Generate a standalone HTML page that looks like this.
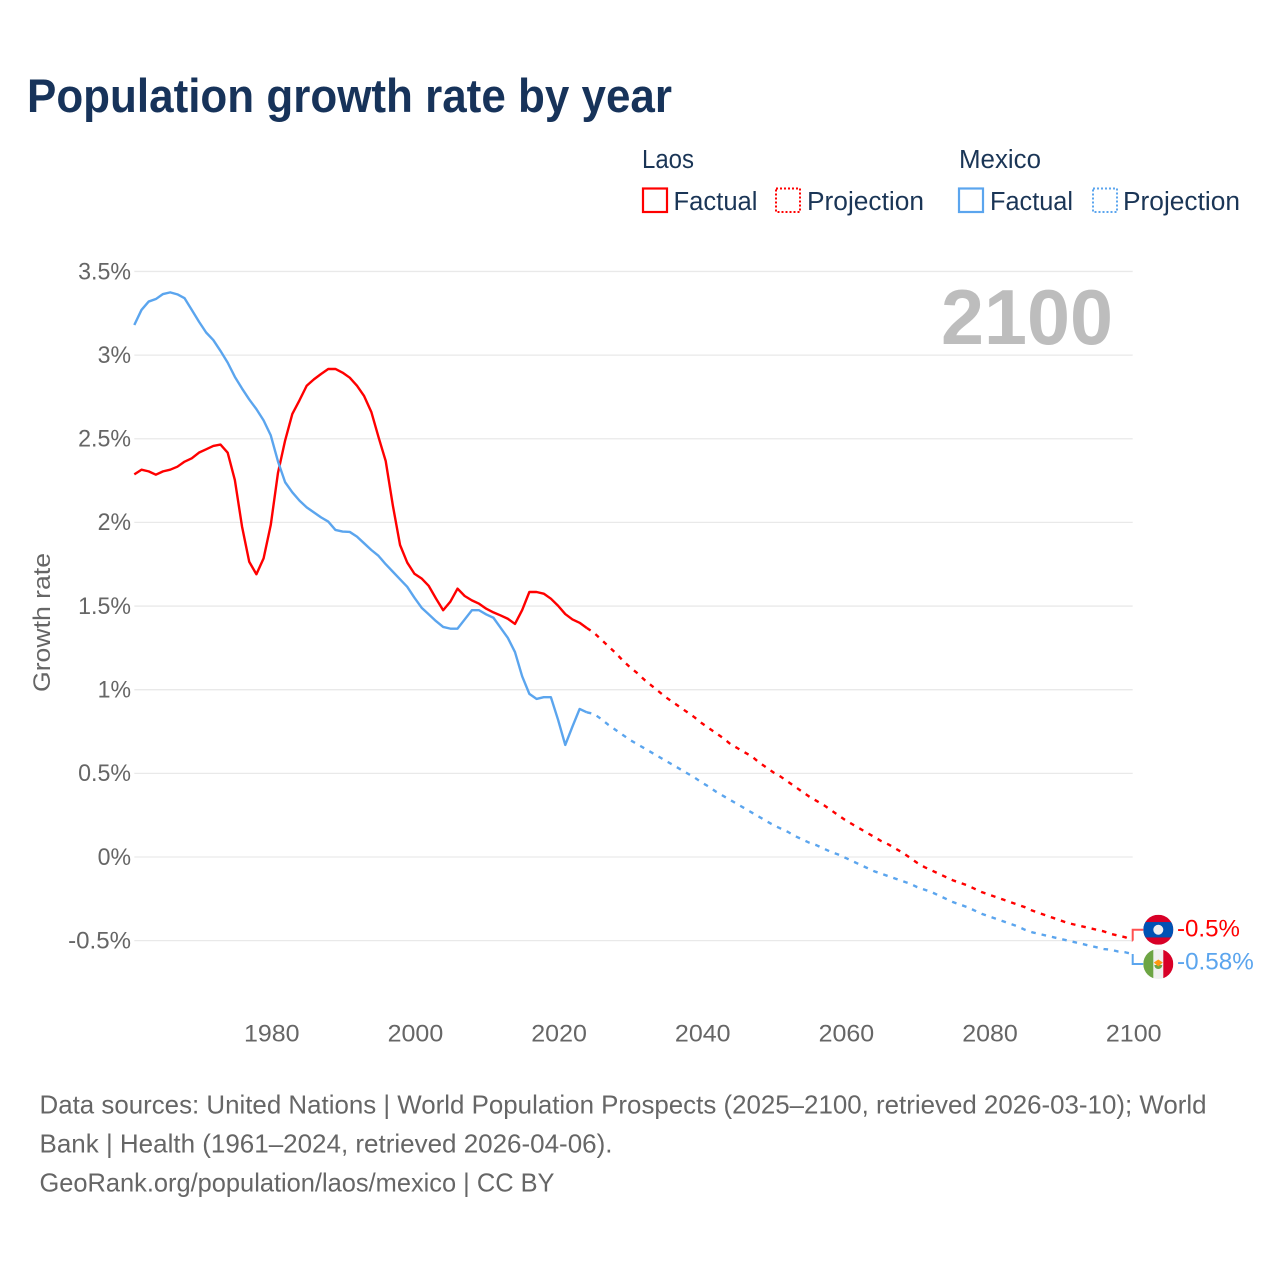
<!DOCTYPE html>
<html lang="en">
<head>
<meta charset="utf-8">
<title>Population growth rate by year</title>
<style>
html,body{margin:0;padding:0;background:#fff;}
svg{display:block;font-family:"Liberation Sans",sans-serif;}
</style>
</head>
<body>
<svg id="chart" xmlns="http://www.w3.org/2000/svg" width="1280" height="1280" viewBox="0 0 1280 1280">
  <rect x="0" y="0" width="1280" height="1280" fill="#ffffff"/>
  <text x="27" y="112" font-size="47" font-weight="700" fill="#17335a" textLength="645" lengthAdjust="spacingAndGlyphs">Population growth rate by year</text>

  <g font-size="25.5" fill="#1a3556">
    <text x="642" y="168" textLength="52" lengthAdjust="spacingAndGlyphs">Laos</text>
    <rect x="643" y="188.5" width="24" height="23.5" fill="none" stroke="#ff0000" stroke-width="2.2"/>
    <text x="673.5" y="210" textLength="84" lengthAdjust="spacingAndGlyphs">Factual</text>
    <rect x="776" y="188.5" width="24" height="23.5" fill="none" stroke="#ff0000" stroke-width="2" stroke-dasharray="2 2"/>
    <text x="807" y="210" textLength="117" lengthAdjust="spacingAndGlyphs">Projection</text>
    <text x="959" y="168" textLength="82" lengthAdjust="spacingAndGlyphs">Mexico</text>
    <rect x="959" y="188.5" width="24" height="23.5" fill="none" stroke="#5ba5ee" stroke-width="2.2"/>
    <text x="990" y="210" textLength="83" lengthAdjust="spacingAndGlyphs">Factual</text>
    <rect x="1093" y="188.5" width="24" height="23.5" fill="none" stroke="#5ba5ee" stroke-width="2" stroke-dasharray="2 2"/>
    <text x="1123" y="210" textLength="117" lengthAdjust="spacingAndGlyphs">Projection</text>
  </g>

  <g id="grid"></g>
  <g id="y-ticks" font-size="24" fill="#666666"></g>
  <g id="x-ticks" font-size="24" fill="#666666"></g>

  <text x="941" y="344" font-size="78" font-weight="700" fill="#bdbdbd" textLength="172" lengthAdjust="spacingAndGlyphs">2100</text>

  <text transform="translate(50 692) rotate(-90)" x="0" y="0" font-size="24" fill="#666666" textLength="139" lengthAdjust="spacingAndGlyphs">Growth rate</text>

  <g id="series" fill="none" stroke-width="2.4" stroke-linejoin="round"></g>
  <g id="end-labels"></g>

  <g font-size="26" fill="#666666">
    <text x="39.5" y="1113.5" textLength="1167" lengthAdjust="spacingAndGlyphs">Data sources: United Nations | World Population Prospects (2025–2100, retrieved 2026-03-10); World</text>
    <text x="39.5" y="1152.5" textLength="573" lengthAdjust="spacingAndGlyphs">Bank | Health (1961–2024, retrieved 2026-04-06).</text>
    <text x="39.5" y="1191.5" textLength="515" lengthAdjust="spacingAndGlyphs">GeoRank.org/population/laos/mexico | CC BY</text>
  </g>
</svg>

<script>
const firstFactualYear = 1961;
const firstProjectionYear = 2025;
const yTickValues = [3.5, 3, 2.5, 2, 1.5, 1, 0.5, 0, -0.5];
const yTickLabels = ["3.5%", "3%", "2.5%", "2%", "1.5%", "1%", "0.5%", "0%", "-0.5%"];
const xTickValues = [1980, 2000, 2020, 2040, 2060, 2080, 2100];
const xTickLabels = ["1980", "2000", "2020", "2040", "2060", "2080", "2100"];

const laosFactual = [
  2.287, 2.315, 2.305, 2.285, 2.305, 2.315, 2.333, 2.363, 2.383, 2.417,
  2.437, 2.457, 2.465, 2.417, 2.253, 1.975, 1.765, 1.69, 1.785, 1.985,
  2.295, 2.49, 2.648, 2.73, 2.817, 2.855, 2.887, 2.917, 2.917, 2.895,
  2.865, 2.817, 2.755, 2.66, 2.51, 2.367, 2.10, 1.865, 1.76, 1.693,
  1.665, 1.62, 1.545, 1.475, 1.526, 1.604, 1.56, 1.534, 1.514, 1.484,
  1.462, 1.444, 1.424, 1.393, 1.476, 1.584, 1.584, 1.574, 1.544, 1.502,
  1.452, 1.42, 1.40, 1.369
];
const mexicoFactual = [
  3.18, 3.27, 3.32, 3.335, 3.365, 3.375, 3.363, 3.34, 3.27, 3.20,
  3.135, 3.09, 3.025, 2.955, 2.87, 2.80, 2.735, 2.677, 2.61, 2.52,
  2.365, 2.24, 2.18, 2.13, 2.09, 2.06, 2.03, 2.005, 1.955, 1.945,
  1.943, 1.915, 1.875, 1.835, 1.80, 1.75, 1.705, 1.66, 1.615, 1.55,
  1.49, 1.45, 1.41, 1.375, 1.365, 1.365, 1.42, 1.475, 1.475, 1.45,
  1.43, 1.37, 1.31, 1.225, 1.08, 0.975, 0.945, 0.955, 0.955, 0.82,
  0.67, 0.78, 0.885, 0.865
];
const laosProjection = [
  1.34, 1.30, 1.26, 1.22, 1.175, 1.135, 1.10, 1.06, 1.025, 0.99,
  0.955, 0.925, 0.895, 0.865, 0.835, 0.80, 0.77, 0.74, 0.71, 0.675,
  0.65, 0.625, 0.60, 0.565, 0.535, 0.505, 0.48, 0.45, 0.42, 0.39,
  0.36, 0.335, 0.31, 0.28, 0.25, 0.22, 0.195, 0.17, 0.145, 0.12,
  0.095, 0.075, 0.05, 0.025, -0.005, -0.035, -0.06, -0.08, -0.10, -0.12,
  -0.14, -0.155, -0.17, -0.19, -0.21, -0.225, -0.24, -0.255, -0.27, -0.285,
  -0.30, -0.32, -0.335, -0.35, -0.365, -0.38, -0.395, -0.405, -0.415, -0.425,
  -0.435, -0.445, -0.46, -0.47, -0.48, -0.50
];
const mexicoProjection = [
  0.855, 0.825, 0.79, 0.76, 0.73, 0.70, 0.675, 0.65, 0.625, 0.60,
  0.575, 0.55, 0.525, 0.50, 0.475, 0.445, 0.42, 0.39, 0.365, 0.34,
  0.315, 0.29, 0.265, 0.24, 0.215, 0.19, 0.17, 0.15, 0.125, 0.105,
  0.085, 0.07, 0.05, 0.03, 0.015, -0.005, -0.025, -0.045, -0.065, -0.085,
  -0.10, -0.115, -0.13, -0.145, -0.16, -0.18, -0.195, -0.21, -0.23, -0.25,
  -0.27, -0.285, -0.30, -0.32, -0.34, -0.355, -0.37, -0.385, -0.40, -0.415,
  -0.435, -0.45, -0.46, -0.47, -0.48, -0.49, -0.50, -0.51, -0.52, -0.53,
  -0.54, -0.55, -0.555, -0.565, -0.57, -0.58
];

const NS = "http://www.w3.org/2000/svg";
const RED = "#ff0000";
const BLUE = "#5ba5ee";

function xScale(year) { return 134.3 + (year - 1961) * (1132.7 - 134.3) / 139; }
function yScale(value) { return 857 - value * 167.3; }

function make(tag, parent, attrs) {
  const el = document.createElementNS(NS, tag);
  for (const k in attrs) el.setAttribute(k, attrs[k]);
  parent.appendChild(el);
  return el;
}

// Approximate rendered widths of numeric labels in the 24px label style.
function labelWidth(s) {
  let w = 0;
  for (const c of s) {
    if (c >= "0" && c <= "9") w += 13.9;
    else if (c === ".") w += 5.6;
    else if (c === "%") w += 19.5;
    else if (c === "-") w += 10;
  }
  return w;
}

function linePath(years, values) {
  return values.map((v, i) => (i ? "L" : "M") + xScale(years[i]).toFixed(2) + " " + yScale(v).toFixed(2)).join(" ");
}
function yearsFrom(start, n) {
  const out = [];
  for (let i = 0; i < n; i++) out.push(start + i);
  return out;
}

const gridG = document.getElementById("grid");
const yTickG = document.getElementById("y-ticks");
const xTickG = document.getElementById("x-ticks");
const seriesG = document.getElementById("series");
const endG = document.getElementById("end-labels");

yTickValues.forEach((v, i) => {
  const line = make("line", gridG, { x1: xScale(1961), x2: xScale(2100), y1: yScale(v), y2: yScale(v), stroke: "#e9e9e9", "stroke-width": 1.3 });
  
  
  const w = labelWidth(yTickLabels[i]);
  const t = make("text", yTickG, { x: 131 - w, y: yScale(v) + 7.8, textLength: w, lengthAdjust: "spacingAndGlyphs" });
  t.textContent = yTickLabels[i];
  
  
});

xTickValues.forEach((yr, i) => {
  const w = labelWidth(xTickLabels[i]);
  const t = make("text", xTickG, { x: xScale(yr) + 1 - w / 2, y: 1041.5, textLength: w, lengthAdjust: "spacingAndGlyphs" });
  t.textContent = xTickLabels[i];
  
  
});

const factualYears = yearsFrom(firstFactualYear, laosFactual.length);
const lastFactualYear = factualYears[factualYears.length - 1];
const projectionYears = [lastFactualYear].concat(yearsFrom(firstProjectionYear, laosProjection.length));

const laosFactualLine = make("path", seriesG, { d: linePath(factualYears, laosFactual), stroke: RED });



const mexicoFactualLine = make("path", seriesG, { d: linePath(factualYears, mexicoFactual), stroke: BLUE });



const laosProjLine = make("path", seriesG, { d: linePath(projectionYears, [laosFactual[laosFactual.length - 1]].concat(laosProjection)), stroke: RED, "stroke-dasharray": "4.6 6" });



const mexicoProjLine = make("path", seriesG, { d: linePath(projectionYears, [mexicoFactual[mexicoFactual.length - 1]].concat(mexicoProjection)), stroke: BLUE, "stroke-dasharray": "4.6 6" });



// End-of-line labels with connectors and flags
const endX = xScale(2100);
const flagX = 1158.3;
const laosEnd = laosProjection[laosProjection.length - 1];
const mexicoEnd = mexicoProjection[mexicoProjection.length - 1];
const laosLabelY = yScale(laosEnd) - 10.9;
const mexicoLabelY = yScale(mexicoEnd) + 10;

const laosConn = make("path", endG, { d: "M" + endX + " " + yScale(laosEnd) + " V" + laosLabelY + " H" + (flagX - 15), fill: "none", stroke: "#ff5050", "stroke-width": 2 });



const mexicoConn = make("path", endG, { d: "M" + endX + " " + yScale(mexicoEnd) + " V" + mexicoLabelY + " H" + (flagX - 15), fill: "none", stroke: BLUE, "stroke-width": 2 });



// Flags
const defs = make("defs", endG, {});
const clipL = make("clipPath", defs, { id: "clip-laos" });
make("circle", clipL, { cx: flagX, cy: laosLabelY, r: 15 });
const clipM = make("clipPath", defs, { id: "clip-mexico" });
make("circle", clipM, { cx: flagX, cy: mexicoLabelY, r: 15 });

const laosFlag = make("g", endG, { "clip-path": "url(#clip-laos)" });


make("rect", laosFlag, { x: flagX - 15, y: laosLabelY - 15, width: 30, height: 30, fill: "#d80027" });
make("rect", laosFlag, { x: flagX - 15, y: laosLabelY - 7.7, width: 30, height: 15.4, fill: "#0052b4" });
make("circle", laosFlag, { cx: flagX, cy: laosLabelY, r: 5, fill: "#f0f0f0" });

const mexicoFlag = make("g", endG, { "clip-path": "url(#clip-mexico)" });


make("rect", mexicoFlag, { x: flagX - 15, y: mexicoLabelY - 15, width: 30, height: 30, fill: "#f0f0f0" });
make("rect", mexicoFlag, { x: flagX - 15, y: mexicoLabelY - 15, width: 10, height: 30, fill: "#6da544" });
make("rect", mexicoFlag, { x: flagX + 5, y: mexicoLabelY - 15, width: 10, height: 30, fill: "#d80027" });
make("path", mexicoFlag, { d: "M" + (flagX - 4) + " " + (mexicoLabelY + 1) + " a4 4 0 0 0 8 0 z", fill: "#6da544" });
make("path", mexicoFlag, { d: "M" + (flagX - 4.5) + " " + (mexicoLabelY - 1.5) + " L" + flagX + " " + (mexicoLabelY - 4.5) + " L" + (flagX + 4.5) + " " + (mexicoLabelY - 1.5) + " L" + flagX + " " + (mexicoLabelY + 2.5) + " z", fill: "#ff9811" });

const laosValueText = (Math.round(laosEnd * 100) / 100) + "%";
const mexicoValueText = (Math.round(mexicoEnd * 100) / 100) + "%";

const laosValue = make("text", endG, { x: 1177, y: laosLabelY + 6.5, "font-size": 24, fill: RED, textLength: labelWidth(laosValueText), lengthAdjust: "spacingAndGlyphs" });
laosValue.textContent = laosValueText;



const mexicoValue = make("text", endG, { x: 1177, y: mexicoLabelY + 5.5, "font-size": 24, fill: BLUE, textLength: labelWidth(mexicoValueText), lengthAdjust: "spacingAndGlyphs" });
mexicoValue.textContent = mexicoValueText;


</script>
</body>
</html>
